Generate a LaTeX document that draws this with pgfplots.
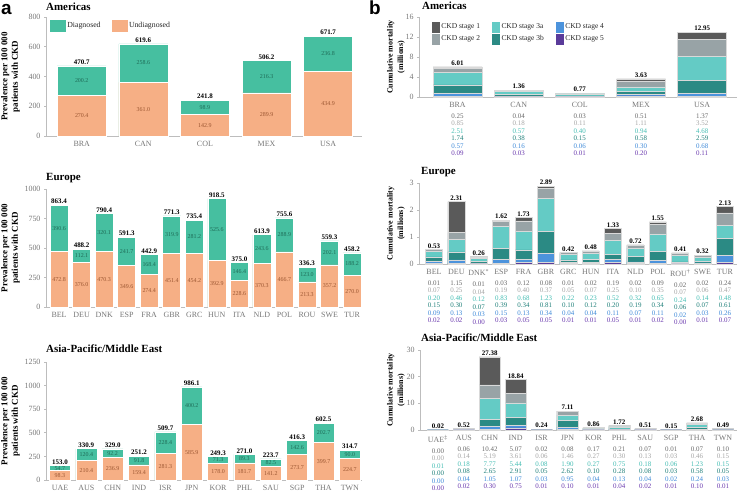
\documentclass[border=0pt]{standalone}
\usepackage{pgfplots}
\pgfplotsset{compat=1.18}
\usepackage{pgfplotstable}
\usepackage{fontspec}
\setmainfont{Liberation Serif}
\newfontfamily\lsans{Liberation Sans}

\definecolor{diag}{HTML}{46BFA0}
\definecolor{undiag}{HTML}{F6AF85}
\definecolor{diagtxt}{HTML}{1E6A56}
\definecolor{undiagtxt}{HTML}{9A5530}
\definecolor{sa}{HTML}{5A5A5A}
\definecolor{sb}{HTML}{98A3A6}
\definecolor{sc}{HTML}{64CBC5}
\definecolor{sd}{HTML}{2B8A84}
\definecolor{se}{HTML}{4C93DC}
\definecolor{sf}{HTML}{5A3B9A}
\definecolor{ra}{HTML}{6A6A6A}
\definecolor{rb}{HTML}{A5A5A5}
\definecolor{rc}{HTML}{45BDB3}
\definecolor{rd}{HTML}{21807A}
\definecolor{re}{HTML}{3F8AD8}
\definecolor{rf}{HTML}{6A3AAE}
\definecolor{axgray}{HTML}{BDBDBD}
\definecolor{tickgray}{HTML}{777777}

\newcommand\tb[7]{\begin{tabular}{@{}c@{}}\fontsize{8}{9}\selectfont #1\\[3.5pt]\color{ra}#2\\\color{rb}#3\\\color{rc}#4\\\color{rd}#5\\\color{re}#6\\\color{rf}#7\end{tabular}}

% Panel a data: u = undiagnosed, d = diagnosed, t = total
\pgfplotstableread{
x u d t
0 270.4 200.2 470.7
1 361.0 258.6 619.6
2 142.9 98.9 241.8
3 289.9 216.3 506.2
4 434.9 236.8 671.7
}\tAmA
\pgfplotstableread{
x u d t
0 472.8 390.6 863.4
1 376.0 112.1 488.2
2 470.3 320.1 790.4
3 349.6 241.7 591.3
4 274.4 168.4 442.9
5 451.4 319.9 771.3
6 454.2 281.2 735.4
7 392.9 525.6 918.5
8 228.6 146.4 375.0
9 370.3 243.6 613.9
10 466.7 288.9 755.6
11 213.3 123.0 336.3
12 357.2 202.1 559.3
13 270.0 188.2 458.2
}\tAEu
\pgfplotstableread{
x u d t
0 98.3 54.7 153.0
1 210.4 120.4 330.9
2 236.9 92.2 329.0
3 159.4 91.8 251.2
4 281.3 228.4 509.7
5 585.9 400.2 986.1
6 178.0 71.3 249.3
7 181.7 89.3 271.0
8 141.2 82.5 223.7
9 273.7 142.6 416.3
10 399.7 202.7 602.5
11 224.7 90.0 314.7
}\tAAs

% Panel b data: CKD stages
\pgfplotstableread{
x s1 s2 s3a s3b s4 s5 t
0 0.25 0.85 2.51 1.74 0.57 0.09 6.01
1 0.04 0.18 0.57 0.38 0.16 0.03 1.36
2 0.03 0.11 0.40 0.15 0.06 0.01 0.77
3 0.51 1.11 0.94 0.58 0.30 0.20 3.63
4 1.37 3.52 4.68 2.59 0.68 0.11 12.95
}\tBmA
\pgfplotstableread{
x s1 s2 s3a s3b s4 s5 t
0 0.01 0.07 0.20 0.15 0.09 0.02 0.53
1 1.15 0.25 0.46 0.30 0.13 0.02 2.31
2 0.01 0.04 0.12 0.07 0.03 0.00 0.26
3 0.03 0.19 0.83 0.39 0.15 0.03 1.62
4 0.12 0.40 0.68 0.34 0.13 0.05 1.73
5 0.08 0.37 1.23 0.81 0.34 0.05 2.89
6 0.01 0.05 0.22 0.10 0.04 0.01 0.42
7 0.02 0.07 0.23 0.12 0.04 0.01 0.48
8 0.19 0.25 0.52 0.20 0.11 0.05 1.33
9 0.02 0.10 0.32 0.19 0.07 0.01 0.72
10 0.09 0.35 0.65 0.34 0.11 0.02 1.55
11 0.02 0.07 0.24 0.06 0.02 0.00 0.41
12 0.02 0.06 0.14 0.07 0.03 0.01 0.32
13 0.24 0.47 0.48 0.61 0.26 0.07 2.13
}\tBEu
\pgfplotstableread{
x s1 s2 s3a s3b s4 s5 t
0 0.00 0.00 0.01 0.00 0.00 0.00 0.02
1 0.06 0.14 0.18 0.08 0.04 0.02 0.52
2 10.42 5.19 7.77 2.65 1.05 0.30 27.38
3 5.07 3.61 5.44 2.91 1.07 0.75 18.84
4 0.02 0.06 0.08 0.05 0.03 0.01 0.24
5 0.08 1.46 1.90 2.62 0.95 0.10 7.11
6 0.17 0.27 0.27 0.10 0.04 0.01 0.86
7 0.21 0.30 0.75 0.28 0.13 0.04 1.72
8 0.07 0.13 0.18 0.08 0.04 0.02 0.51
9 0.01 0.03 0.06 0.03 0.02 0.01 0.15
10 0.07 0.46 1.23 0.58 0.24 0.10 2.68
11 0.10 0.15 0.15 0.05 0.03 0.01 0.49
}\tBAs

\pgfplotsset{
  sqa/.style={legend image code/.code={\fill[#1] (0bp,-5.5bp) rectangle (15bp,5.5bp);}},
  sqb/.style={legend image code/.code={\fill[#1] (0bp,-5bp) rectangle (7bp,5bp);}},
  common/.style={
    scale only axis, anchor=south west,
    axis lines=left, axis line style={-, draw=axgray, line width=0.9pt},
    ymin=0, clip=false,
    tick align=outside, major tick length=2bp,
    ytick style={draw=axgray, line width=0.6pt},
    xtick style={draw=none},
    tick label style={font=\fontsize{8}{9}\selectfont, text=tickgray},
    /pgf/number format/assume math mode=true,
    /pgf/number format/1000 sep={},
    legend cell align=left,
    ybar, bar shift=0pt,
  },
  pa/.style={common, bar width=#1,
    legend style={draw=none, fill=none, at={(0.012,0.975)}, anchor=north west,
      legend columns=2, font=\fontsize{7.8}{9}\selectfont, text=black!85,
      /tikz/every even column/.append style={column sep=9bp}, inner sep=0pt},
  },
  pb/.style={common, bar width=#1,
    every axis plot/.append style={draw=white!70!gray, line width=0.5pt},
    xticklabel style={font=\fontsize{7}{7.5}\selectfont, anchor=north, inner sep=0pt, yshift=-3bp},
    legend style={draw=none, fill=none, at={(0.04,0.94)}, anchor=north west,
      legend columns=3, font=\fontsize{7.5}{9}\selectfont, text=black!85,
      /tikz/every even column/.append style={column sep=10bp}, inner sep=0pt,
      row sep=1bp},
  },
  tot/.style={nodes near coords, point meta=explicit symbolic,
    every node near coord/.append style={font=\bfseries\fontsize{7}{8}\selectfont, text=black, inner sep=1bp}},
  inl/.style={draw=none, fill=none, nodes near coords, nodes near coords align=center,
    point meta=explicit symbolic,
    every node near coord/.append style={font=\fontsize{6}{7}\selectfont, text=#1}},
  abar/.style={fill=#1, draw=white, line width=0.6pt},
}

\begin{document}
\begin{tikzpicture}[x=1bp,y=1bp]
\useasboundingbox (0,0) rectangle (740,492);

% ---------------- Panel a: Americas
\begin{axis}[pa=49bp, at={(46bp,356bp)}, width=316bp, height=119bp,
  xmin=-0.58, xmax=4.55, ymax=800, ytick={0,200,...,800},
  xtick={0,...,4}, xticklabels={BRA,CAN,COL,MEX,USA},
  legend entries={Diagnosed,Undiagnosed}]
\addlegendimage{sqa=diag}
\addlegendimage{sqa=undiag}
\addplot[abar=diag, tot] table[x=x,y=t,meta=t]{\tAmA};
\addplot[abar=undiag] table[x=x,y=u]{\tAmA};
\addplot[inl=undiagtxt] table[x=x, y expr=\thisrow{u}/2, meta=u]{\tAmA};
\addplot[inl=diagtxt] table[x=x, y expr=\thisrow{u}+\thisrow{d}/2, meta=d]{\tAmA};
\end{axis}

% ---------------- Panel a: Europe
\begin{axis}[pa=18bp, at={(46bp,185bp)}, width=316bp, height=118bp,
  xmin=-0.58, xmax=13.44, ymax=1000, ytick={0,250,...,1000},
  xtick={0,...,13}, xticklabels={BEL,DEU,DNK,ESP,FRA,GBR,GRC,HUN,ITA,NLD,POL,ROU,SWE,TUR}]
\addplot[abar=diag, tot] table[x=x,y=t,meta=t]{\tAEu};
\addplot[abar=undiag] table[x=x,y=u]{\tAEu};
\addplot[inl=undiagtxt] table[x=x, y expr=\thisrow{u}/2, meta=u]{\tAEu};
\addplot[inl=diagtxt] table[x=x, y expr=\thisrow{u}+\thisrow{d}/2, meta=d]{\tAEu};
\end{axis}

% ---------------- Panel a: Asia-Pacific/Middle East
\begin{axis}[pa=21bp, at={(46bp,12bp)}, width=316bp, height=118bp,
  xmin=-0.53, xmax=11.46, ymax=1250, ytick={0,250,...,1250},
  xtick={0,...,11}, xticklabels={UAE,AUS,CHN,IND,ISR,JPN,KOR,PHL,SAU,SGP,THA,TWN}]
\addplot[abar=diag, tot] table[x=x,y=t,meta=t]{\tAAs};
\addplot[abar=undiag] table[x=x,y=u]{\tAAs};
\addplot[inl=undiagtxt] table[x=x, y expr=\thisrow{u}/2, meta=u]{\tAAs};
\addplot[inl=diagtxt] table[x=x, y expr=\thisrow{u}+\thisrow{d}/2, meta=d]{\tAAs};
\end{axis}

% ---------------- Panel b: Americas
\begin{axis}[pb=49bp, at={(419bp,395bp)}, width=318bp, height=80bp,
  xmin=-0.63, xmax=4.57, ymax=16, ytick={0,4,...,16},
  xtick={0,...,4},
  xticklabels={\tb{BRA}{0.25}{0.85}{2.51}{1.74}{0.57}{0.09},
    \tb{CAN}{0.04}{0.18}{0.57}{0.38}{0.16}{0.03},
    \tb{COL}{0.03}{0.11}{0.40}{0.15}{0.06}{0.01},
    \tb{MEX}{0.51}{1.11}{0.94}{0.58}{0.30}{0.20},
    \tb{USA}{1.37}{3.52}{4.68}{2.59}{0.68}{0.11}},
  legend entries={CKD stage 1,CKD stage 3a,CKD stage 4,CKD stage 2,CKD stage 3b,CKD stage 5}]
\addlegendimage{sqb=sa}
\addlegendimage{sqb=sc}
\addlegendimage{sqb=se}
\addlegendimage{sqb=sb}
\addlegendimage{sqb=sd}
\addlegendimage{sqb=sf}
\addplot[fill=sa, tot] table[x=x, y expr=\thisrow{s1}+\thisrow{s2}+\thisrow{s3a}+\thisrow{s3b}+\thisrow{s4}+\thisrow{s5}, meta=t]{\tBmA};
\addplot[fill=sb] table[x=x, y expr=\thisrow{s2}+\thisrow{s3a}+\thisrow{s3b}+\thisrow{s4}+\thisrow{s5}]{\tBmA};
\addplot[fill=sc] table[x=x, y expr=\thisrow{s3a}+\thisrow{s3b}+\thisrow{s4}+\thisrow{s5}]{\tBmA};
\addplot[fill=sd] table[x=x, y expr=\thisrow{s3b}+\thisrow{s4}+\thisrow{s5}]{\tBmA};
\addplot[fill=se] table[x=x, y expr=\thisrow{s4}+\thisrow{s5}]{\tBmA};
\addplot[fill=sf] table[x=x, y=s5]{\tBmA};
\end{axis}

% ---------------- Panel b: Europe
\begin{axis}[pb=17bp, at={(419bp,228bp)}, width=318bp, height=81bp,
  xmin=-0.67, xmax=13.54, ymax=3, ytick={0,1,2,3},
  xtick={0,...,13},
  xticklabels={\tb{BEL}{0.01}{0.07}{0.20}{0.15}{0.09}{0.02},
    \tb{DEU}{1.15}{0.25}{0.46}{0.30}{0.13}{0.02},
    \tb{DNK\textsuperscript{*}}{0.01}{0.04}{0.12}{0.07}{0.03}{0.00},
    \tb{ESP}{0.03}{0.19}{0.83}{0.39}{0.15}{0.03},
    \tb{FRA}{0.12}{0.40}{0.68}{0.34}{0.13}{0.05},
    \tb{GBR}{0.08}{0.37}{1.23}{0.81}{0.34}{0.05},
    \tb{GRC}{0.01}{0.05}{0.22}{0.10}{0.04}{0.01},
    \tb{HUN}{0.02}{0.07}{0.23}{0.12}{0.04}{0.01},
    \tb{ITA}{0.19}{0.25}{0.52}{0.20}{0.11}{0.05},
    \tb{NLD}{0.02}{0.10}{0.32}{0.19}{0.07}{0.01},
    \tb{POL}{0.09}{0.35}{0.65}{0.34}{0.11}{0.02},
    \tb{ROU\textsuperscript{†}}{0.02}{0.07}{0.24}{0.06}{0.02}{0.00},
    \tb{SWE}{0.02}{0.06}{0.14}{0.07}{0.03}{0.01},
    \tb{TUR}{0.24}{0.47}{0.48}{0.61}{0.26}{0.07}}]
\addplot[fill=sa, tot] table[x=x, y expr=\thisrow{s1}+\thisrow{s2}+\thisrow{s3a}+\thisrow{s3b}+\thisrow{s4}+\thisrow{s5}, meta=t]{\tBEu};
\addplot[fill=sb] table[x=x, y expr=\thisrow{s2}+\thisrow{s3a}+\thisrow{s3b}+\thisrow{s4}+\thisrow{s5}]{\tBEu};
\addplot[fill=sc] table[x=x, y expr=\thisrow{s3a}+\thisrow{s3b}+\thisrow{s4}+\thisrow{s5}]{\tBEu};
\addplot[fill=sd] table[x=x, y expr=\thisrow{s3b}+\thisrow{s4}+\thisrow{s5}]{\tBEu};
\addplot[fill=se] table[x=x, y expr=\thisrow{s4}+\thisrow{s5}]{\tBEu};
\addplot[fill=sf] table[x=x, y=s5]{\tBEu};
\end{axis}

% ---------------- Panel b: Asia-Pacific/Middle East
\begin{axis}[pb=21bp, at={(420bp,62bp)}, width=317bp, height=80bp,
  xmin=-0.69, xmax=11.54, ymax=30, ytick={0,10,20,30},
  xtick={0,...,11},
  xticklabels={\tb{UAE\textsuperscript{‡}}{0.00}{0.00}{0.01}{0.00}{0.00}{0.00},
    \tb{AUS}{0.06}{0.14}{0.18}{0.08}{0.04}{0.02},
    \tb{CHN}{10.42}{5.19}{7.77}{2.65}{1.05}{0.30},
    \tb{IND}{5.07}{3.61}{5.44}{2.91}{1.07}{0.75},
    \tb{ISR}{0.02}{0.06}{0.08}{0.05}{0.03}{0.01},
    \tb{JPN}{0.08}{1.46}{1.90}{2.62}{0.95}{0.10},
    \tb{KOR}{0.17}{0.27}{0.27}{0.10}{0.04}{0.01},
    \tb{PHL}{0.21}{0.30}{0.75}{0.28}{0.13}{0.04},
    \tb{SAU}{0.07}{0.13}{0.18}{0.08}{0.04}{0.02},
    \tb{SGP}{0.01}{0.03}{0.06}{0.03}{0.02}{0.01},
    \tb{THA}{0.07}{0.46}{1.23}{0.58}{0.24}{0.10},
    \tb{TWN}{0.10}{0.15}{0.15}{0.05}{0.03}{0.01}}]
\addplot[fill=sa, tot] table[x=x, y expr=\thisrow{s1}+\thisrow{s2}+\thisrow{s3a}+\thisrow{s3b}+\thisrow{s4}+\thisrow{s5}, meta=t]{\tBAs};
\addplot[fill=sb] table[x=x, y expr=\thisrow{s2}+\thisrow{s3a}+\thisrow{s3b}+\thisrow{s4}+\thisrow{s5}]{\tBAs};
\addplot[fill=sc] table[x=x, y expr=\thisrow{s3a}+\thisrow{s3b}+\thisrow{s4}+\thisrow{s5}]{\tBAs};
\addplot[fill=sd] table[x=x, y expr=\thisrow{s3b}+\thisrow{s4}+\thisrow{s5}]{\tBAs};
\addplot[fill=se] table[x=x, y expr=\thisrow{s4}+\thisrow{s5}]{\tBAs};
\addplot[fill=sf] table[x=x, y=s5]{\tBAs};
\end{axis}

% ---------------- Titles and labels
\node[anchor=base west, inner sep=0pt, font=\lsans\bfseries\fontsize{19}{20}\selectfont] at (1,477) {a};
\node[anchor=base west, inner sep=0pt, font=\lsans\bfseries\fontsize{19}{20}\selectfont] at (369,477) {b};
\begin{scope}[every node/.style={anchor=base west, inner sep=0pt, font=\bfseries\fontsize{11}{13}\selectfont}]
\node at (46,481) {Americas};
\node at (46,311) {Europe};
\node at (46,139) {Asia-Pacific/Middle East};
\node at (422,482) {Americas};
\node at (421,317) {Europe};
\node at (421,150) {Asia-Pacific/Middle East};
\end{scope}
\begin{scope}[every node/.style={rotate=90, align=center, inner sep=0pt}]
\node[font=\bfseries\fontsize{9}{10.5}\selectfont] at (10.5,415.5) {Prevalence per 100 000\\patients with CKD};
\node[font=\bfseries\fontsize{9}{10.5}\selectfont] at (10.5,244) {Prevalence per 100 000\\patients with CKD};
\node[font=\bfseries\fontsize{9}{10.5}\selectfont] at (10.5,71) {Prevalence per 100 000\\patients with CKD};
\node[font=\bfseries\fontsize{8}{10.5}\selectfont] at (396,435) {Cumulative mortality\\(millions)};
\node[font=\bfseries\fontsize{8}{10.5}\selectfont] at (396,268.5) {Cumulative mortality\\(millions)};
\node[font=\bfseries\fontsize{8}{10.5}\selectfont] at (396,102) {Cumulative mortality\\(millions)};
\end{scope}
\end{tikzpicture}
\end{document}
